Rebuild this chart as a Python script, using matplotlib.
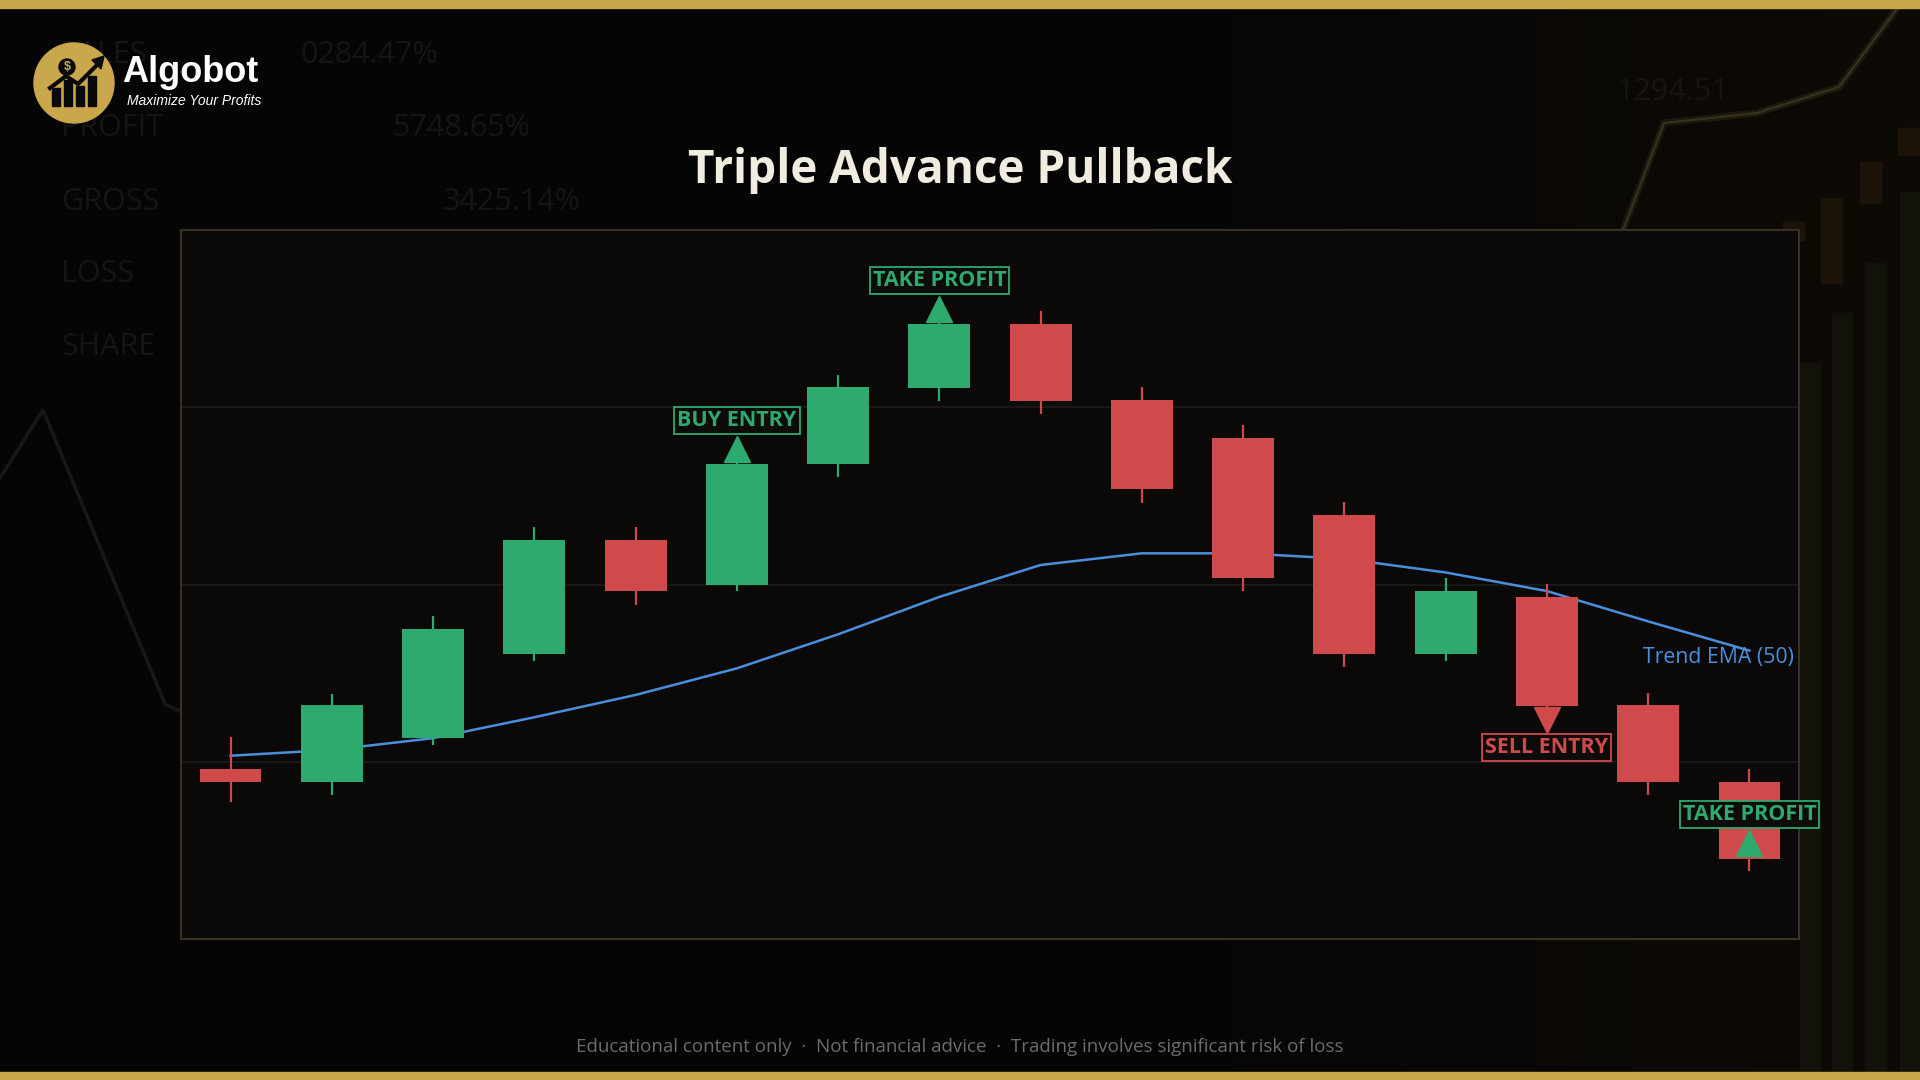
import numpy as np
import matplotlib.pyplot as plt
from matplotlib.patches import Circle, Rectangle, Polygon

# ---- candle data (price units) ----
opens = [109.60, 108.84, 111.36, 116.06, 122.52, 120.00, 126.78, 131.11,
         134.71, 130.40, 128.27, 123.91, 116.06, 119.29, 113.20, 108.86]
highs = [111.41, 113.85, 118.21, 123.26, 123.26, 127.20, 131.82, 135.10,
         135.44, 131.14, 129.01, 124.65, 120.37, 120.02, 113.88, 109.57]
lows = [107.73, 108.12, 110.96, 115.67, 118.84, 119.61, 126.09, 130.38,
        129.64, 124.62, 119.61, 115.32, 115.67, 112.81, 108.15, 103.82]
closes = [108.84, 113.20, 117.48, 122.52, 119.61, 126.80, 131.14, 134.71,
          130.38, 125.36, 120.34, 116.06, 119.63, 113.17, 108.84, 104.53]
ema = [110.34, 110.67, 111.33, 112.51, 113.77, 115.27, 117.19, 119.30,
       121.10, 121.76, 121.76, 121.45, 120.68, 119.63, 117.92, 116.27]

# ---- signals: candle index, label price, arrow price, text, direction ----
sig_idx = [5, 7, 13, 15]
sig_label_y = [129.26, 137.15, 110.80, 107.04]
sig_arrow_y = [127.62, 135.53, 112.33, 105.39]
sig_text = ["BUY ENTRY", "TAKE PROFIT", "SELL ENTRY", "TAKE PROFIT"]
sig_kind = ["up", "up", "down", "up"]

grid_levels = [110, 120, 130]

GREEN = "#2eaa6e"
RED = "#d04a4c"
BLUE = "#4a8fdc"
GOLD = "#c9a84b"

fig = plt.figure(figsize=(19.2, 10.8), dpi=100, facecolor="#050505")

# background layer in pixel coordinates (decoration only)
bg = fig.add_axes([0, 0, 1, 1], zorder=0)
bg.set_xlim(0, 1920)
bg.set_ylim(1080, 0)
bg.axis("off")

# soft warm tint towards the right side
t = np.clip((np.linspace(0, 1, 400) - 0.55) / 0.45, 0, 1)
grad = np.zeros((1, 400, 3))
grad[0, :, 0] = (5 + 9 * t) / 255
grad[0, :, 1] = (5 + 5 * t) / 255
grad[0, :, 2] = (5 + 1 * t) / 255
bg.imshow(grad, extent=[0, 1920, 1080, 0], aspect="auto", zorder=0)

faint = "#161513"
for txt, x, y in [("SALES", 61, 55), ("0284.47%", 300, 55), ("PROFIT", 61, 128),
                  ("5748.65%", 392, 128), ("GROSS", 61, 202), ("3425.14%", 443, 202),
                  ("LOSS", 61, 274), ("SHARE", 61, 347), ("1294.51", 1616, 92)]:
    bg.text(x, y, txt, color=faint, fontsize=22, family="Open Sans",
            va="center", ha="left", zorder=1)
bg.plot([0, 43, 165, 181], [478, 410, 704, 712], color="#191817", lw=2.5, zorder=1)
bg.plot([1623, 1664, 1757, 1839, 1896], [230, 123, 113, 87, 10],
        color="#2a2413", lw=5, alpha=0.6, zorder=1)
bg.plot([1623, 1664, 1757, 1839, 1896], [230, 123, 113, 87, 10],
        color="#3a3220", lw=1.5, zorder=1)
for x, top in [(1800, 363), (1832, 313), (1866, 263), (1900, 192)]:
    bg.add_patch(Rectangle((x, top), 20, 1080 - top, color="#13120a", zorder=1))
for x, top, bot in [(1783, 222, 240), (1821, 198, 283), (1860, 162, 203), (1898, 128, 155)]:
    bg.add_patch(Rectangle((x, top), 21, bot - top, color="#1c1409", zorder=1))

# gold bands
bg.add_patch(Rectangle((0, 0), 1920, 8, color=GOLD, zorder=2))
bg.add_patch(Rectangle((0, 1072), 1920, 8, color=GOLD, zorder=2))

# logo
bg.add_patch(Circle((74, 83), 40, color=GOLD, zorder=3))
for bx, bh in [(52, 18), (64, 26), (76, 20), (88, 30)]:
    bg.add_patch(Rectangle((bx, 106 - bh), 8, bh, color="#0a0a0a", zorder=4))
bg.plot([50, 66, 78, 100], [88, 76, 84, 62], color="#0a0a0a", lw=3, zorder=4)
bg.add_patch(Polygon([[104, 56], [92, 60], [101, 69]], color="#0a0a0a", zorder=4))
bg.add_patch(Circle((67, 67), 8, color="#0a0a0a", zorder=4))
bg.text(67, 67.5, "$", color=GOLD, fontsize=9, fontweight="bold",
        ha="center", va="center", family="Liberation Sans", zorder=5)
bg.text(122, 73, "Algobot", color="white", fontsize=26, fontweight="bold",
        family="Liberation Sans", ha="left", va="center", zorder=5)
bg.text(127, 101, "Maximize Your Profits", color="white", fontsize=10,
        style="italic", family="Liberation Sans", ha="left", va="center", zorder=5)

# title and footer
fig.text(0.5, 1 - 170 / 1080, "Triple Advance Pullback", color="#f0ece0", fontsize=33,
         fontweight="bold", family="Open Sans", ha="center", va="center")
fig.text(0.5, 1 - 1047 / 1080,
         "Educational content only  \u00b7  Not financial advice  \u00b7  Trading involves significant risk of loss",
         color="#6e6c68", fontsize=13.5, family="Open Sans", ha="center", va="center")

# ---- main chart ----
ax = fig.add_axes([181 / 1920, 141 / 1080, 1618 / 1920, 709 / 1080], zorder=2)
ax.set_facecolor("#0a0908")
xs = list(range(len(opens)))
ax.set_xlim(-0.49, 15.49)
ax.set_ylim(100, 140)

for lvl in grid_levels:
    ax.axhline(lvl, color="#1d1c1a", lw=1.2, zorder=1)

ax.plot(xs, ema, color=BLUE, lw=1.8, zorder=2)

colors = [GREEN if c >= o else RED for o, c in zip(opens, closes)]
ax.vlines(xs, lows, highs, colors=colors, lw=1.6, zorder=3)
ax.bar(xs, [abs(c - o) for o, c in zip(opens, closes)],
       bottom=[min(o, c) for o, c in zip(opens, closes)],
       width=0.61, color=colors, zorder=4)

ax.text(15.44, 115.88, "Trend EMA (50)", color=BLUE, fontsize=15.3,
        family="Open Sans", ha="right", va="center", zorder=6)

for i, ly, ay, txt, kind in zip(sig_idx, sig_label_y, sig_arrow_y, sig_text, sig_kind):
    col = RED if kind == "down" else GREEN
    ax.plot(i, ay, marker="v" if kind == "down" else "^", markersize=19,
            color=col, zorder=7, clip_on=False)
    ax.text(i, ly, txt, color=col, fontsize=15.5, fontweight="bold", family="Open Sans",
            ha="center", va="center", zorder=8, clip_on=False,
            bbox=dict(boxstyle="square,pad=0.14", facecolor="#0d0c0a",
                      edgecolor=col, linewidth=1.3))

ax.set_xticks([])
ax.set_yticks([])
for sp in ax.spines.values():
    sp.set_color("#3a3221")
    sp.set_linewidth(1.5)

fig.savefig("out.png", dpi=100, facecolor=fig.get_facecolor())
